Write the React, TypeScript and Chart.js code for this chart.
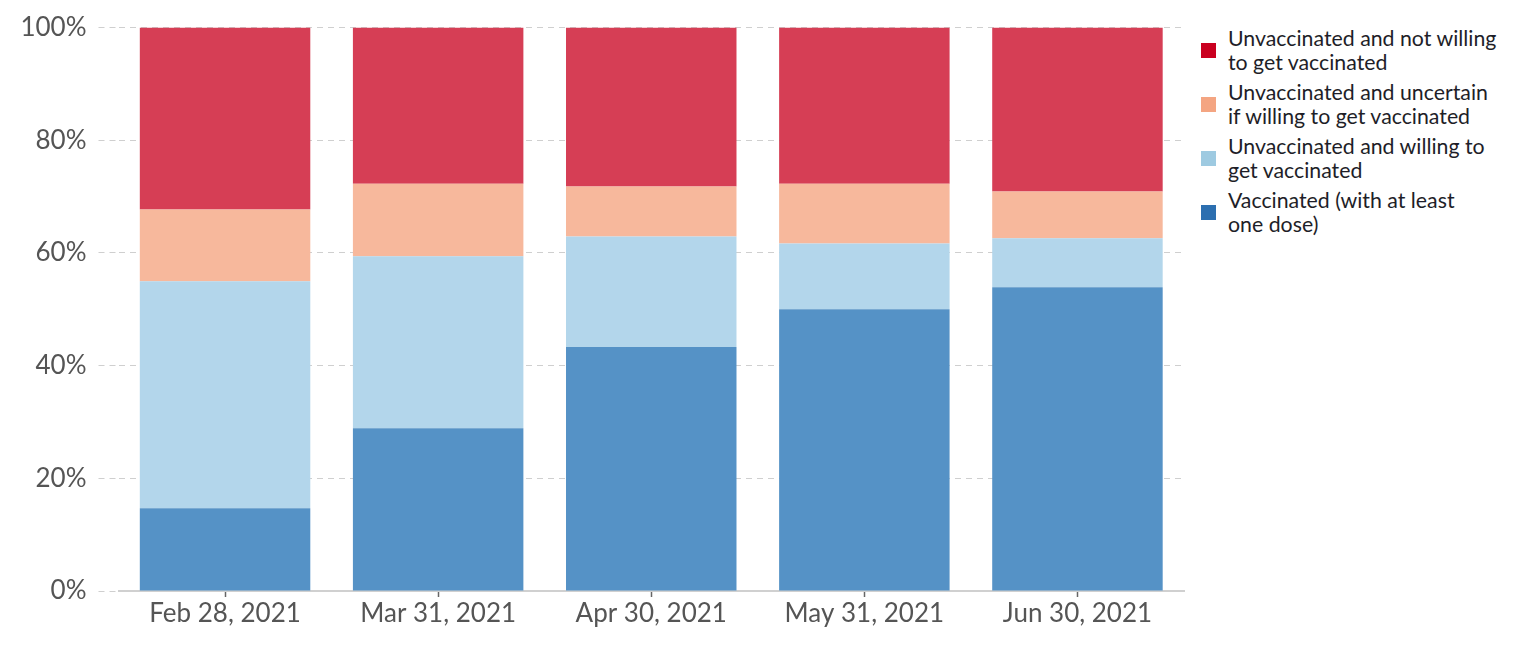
import React, { useEffect, useRef } from "react";
import { Chart, registerables } from "chart.js";

Chart.register(...registerables);

const categories = ["Feb 28, 2021", "Mar 31, 2021", "Apr 30, 2021", "May 31, 2021", "Jun 30, 2021"];
const vaccinated = [14.7, 28.9, 43.3, 50.0, 53.9];
const willing = [40.3, 30.5, 19.6, 11.7, 8.7];
const uncertain = [12.7, 12.9, 8.9, 10.6, 8.3];
const notWilling = [32.3, 27.7, 28.2, 27.7, 29.1];
const yTicks = [0, 20, 40, 60, 80, 100];

const seriesLabels = [
  "Unvaccinated and not willing to get vaccinated",
  "Unvaccinated and uncertain if willing to get vaccinated",
  "Unvaccinated and willing to get vaccinated",
  "Vaccinated (with at least one dose)",
];
const legendLines = [
  ["Unvaccinated and not willing", "to get vaccinated"],
  ["Unvaccinated and uncertain", "if willing to get vaccinated"],
  ["Unvaccinated and willing to", "get vaccinated"],
  ["Vaccinated (with at least", "one dose)"],
];
const legendColors = ["#ca0020", "#f4a582", "#9ecae1", "#2c6fb0"];
const barColors = ["#d63e55", "#f7b89c", "#b3d6eb", "#5592c6"];

const FONT = "Lato, 'Noto Sans', sans-serif";

export default function App() {
  const ref = useRef<HTMLCanvasElement | null>(null);
  useEffect(() => {
    if (!ref.current) return;
    const chart = new Chart(ref.current, {
      type: "bar",
      data: {
        labels: categories,
        datasets: [
          { label: seriesLabels[3], data: vaccinated, backgroundColor: barColors[3] },
          { label: seriesLabels[2], data: willing, backgroundColor: barColors[2] },
          { label: seriesLabels[1], data: uncertain, backgroundColor: barColors[1] },
          { label: seriesLabels[0], data: notWilling, backgroundColor: barColors[0] },
        ],
      },
      options: {
        animation: false,
        responsive: false,
        maintainAspectRatio: false,
        layout: { padding: { top: 27, right: 6, left: 0, bottom: 0 } },
        datasets: { bar: { categoryPercentage: 0.8, barPercentage: 1, borderWidth: 0 } },
        plugins: { legend: { display: false }, tooltip: { enabled: false } },
        scales: {
          x: {
            stacked: true,
            offset: true,
            grid: {
              offset: false,
              drawOnChartArea: false,
              drawTicks: true,
              tickLength: 6,
              tickColor: "#666",
              tickWidth: 1.5,
            },
            border: { display: true, color: "#d0d0d0", width: 2 },
            ticks: { color: "#555", font: { family: FONT, size: 26 }, padding: 1 },
            afterFit: (s: any) => {
              s.height = 66;
            },
          },
          y: {
            stacked: true,
            min: 0,
            max: 100,
            afterBuildTicks: (s: any) => {
              s.ticks = yTicks.map((v) => ({ value: v }));
            },
            grid: {
              color: "#cfcfcf",
              lineWidth: 1,
              tickLength: 20,
              tickBorderDash: [6, 5],
            },
            border: { display: false, dash: [6, 5] },
            ticks: {
              color: "#555",
              font: { family: FONT, size: 26 },
              padding: 12,
              callback: (v: any) => v + "%",
            },
            afterFit: (s: any) => {
              s.width = 118.5;
            },
          },
        },
      },
    });
    return () => chart.destroy();
  }, []);

  return (
    <div style={{ position: "fixed", left: 0, top: 0, width: 1524, height: 657, background: "#fff" }}>
      <canvas ref={ref} width={1190} height={657} style={{ position: "absolute", left: 0, top: 0, width: 1190, height: 657 }} />
      <div style={{ position: "absolute", left: 1201, top: 23, fontFamily: FONT, fontSize: 21.3, color: "#1e1e28", lineHeight: "24px" }}>
        {legendLines.map((lines, i) => (
          <div key={i} style={{ display: "flex", alignItems: "center", height: 54 }}>
            <div style={{ width: 15, height: 15, background: legendColors[i], marginRight: 12, flex: "none" }} />
            <div>
              {lines.map((l, j) => (
                <div key={j} style={{ whiteSpace: "nowrap" }}>{l}</div>
              ))}
            </div>
          </div>
        ))}
      </div>
    </div>
  );
}
